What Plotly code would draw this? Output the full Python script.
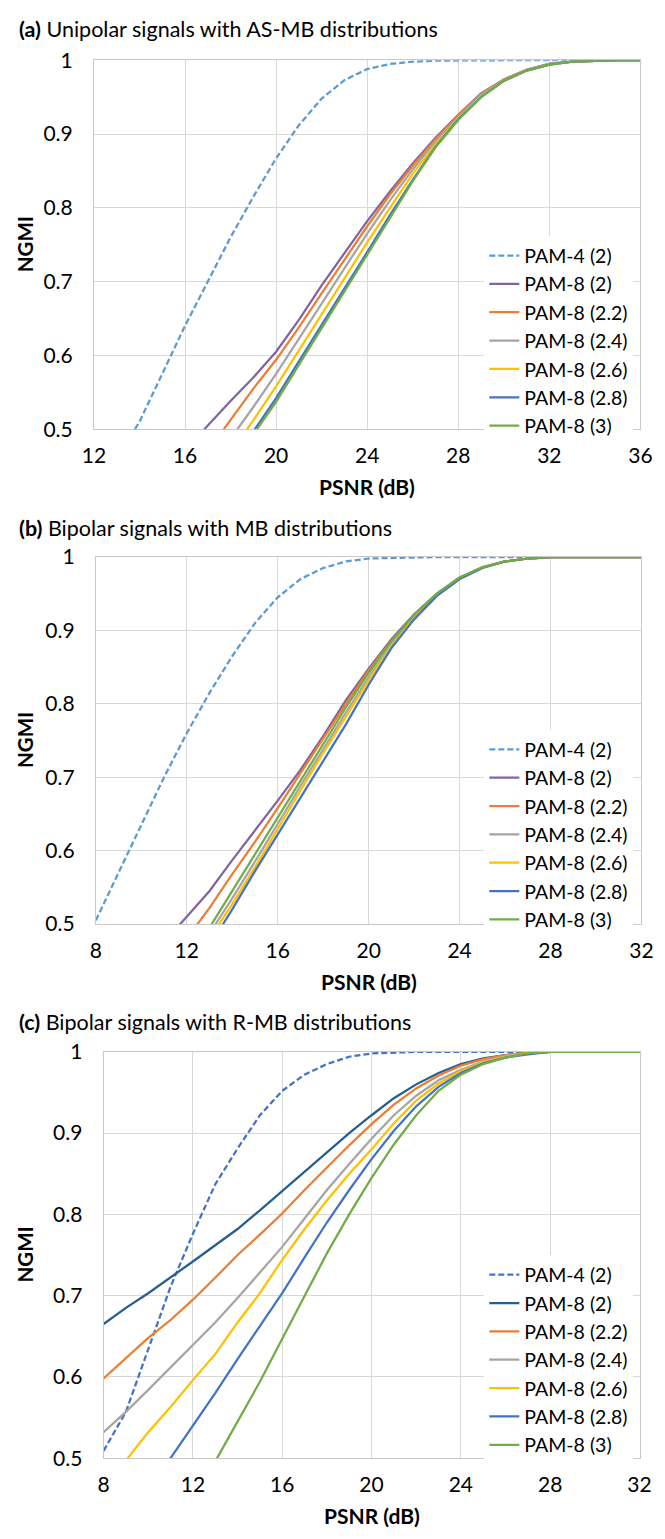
import plotly.graph_objects as go

W, H = 665, 1539
FONT = "Lato"

names = ["PAM-4 (2)", "PAM-8 (2)", "PAM-8 (2.2)", "PAM-8 (2.4)", "PAM-8 (2.6)", "PAM-8 (2.8)", "PAM-8 (3)"]

# ---------------- panel (a) -----------------
xa = list(range(12, 37))
a_pam4 = [0.42, 0.46, 0.51, 0.575, 0.64, 0.70, 0.76, 0.815, 0.867, 0.912, 0.948, 0.973, 0.988, 0.995, 0.998, 0.9995,
          1, 1, 1, 1, 1, 1, 1, 1, 1]
a_p8_20 = [None, None, None, None, 0.47, 0.505, 0.538, 0.57, 0.605, 0.648, 0.695, 0.738, 0.782, 0.822, 0.86, 0.895,
           0.926, 0.955, 0.974, 0.987, 0.995, 0.998, 0.9995, 1, 1]
a_p8_22 = [None, None, None, None, None, 0.47, 0.513, 0.555, 0.594, 0.638, 0.684, 0.73, 0.775, 0.818, 0.857, 0.893,
           0.925, 0.954, 0.974, 0.987, 0.995, 0.998, 0.9995, 1, 1]
a_p8_24 = [None, None, None, None, None, None, 0.487, 0.53, 0.575, 0.622, 0.67, 0.718, 0.765, 0.81, 0.852, 0.89,
           0.923, 0.953, 0.973, 0.987, 0.995, 0.998, 0.9995, 1, 1]
a_p8_26 = [None, None, None, None, None, None, 0.468, 0.512, 0.558, 0.607, 0.656, 0.705, 0.753, 0.8, 0.846, 0.886,
           0.921, 0.951, 0.972, 0.986, 0.994, 0.998, 0.9995, 1, 1]
a_p8_28 = [None, None, None, None, None, None, None, 0.497, 0.542, 0.592, 0.641, 0.69, 0.74, 0.79, 0.838, 0.883,
           0.92, 0.95, 0.972, 0.986, 0.994, 0.998, 0.9995, 1, 1]
a_p8_30 = [None, None, None, None, None, None, None, 0.493, 0.537, 0.587, 0.637, 0.686, 0.736, 0.787, 0.836, 0.882,
           0.919, 0.95, 0.972, 0.986, 0.994, 0.998, 0.9995, 1, 1]

# ---------------- panel (b) -----------------
xb = list(range(8, 33))
b_pam4 = [0.505, 0.57, 0.635, 0.70, 0.76, 0.815, 0.865, 0.91, 0.945, 0.97, 0.985, 0.994, 0.998, 0.999,
          1, 1, 1, 1, 1, 1, 1, 1, 1, 1, 1]
b_p8_20 = [None, None, None, 0.475, 0.51, 0.545, 0.587, 0.627, 0.668, 0.71, 0.756, 0.805, 0.848, 0.888, 0.922, 0.95,
           0.972, 0.986, 0.994, 0.998, 1, 1, 1, 1, 1]
b_p8_22 = [None, None, None, None, 0.48, 0.522, 0.568, 0.612, 0.658, 0.705, 0.752, 0.8, 0.845, 0.886, 0.92, 0.949,
           0.971, 0.986, 0.994, 0.998, 1, 1, 1, 1, 1]
b_p8_24 = [None, None, None, None, None, 0.487, 0.535, 0.585, 0.637, 0.688, 0.738, 0.788, 0.836, 0.88, 0.918, 0.948,
           0.971, 0.986, 0.994, 0.998, 1, 1, 1, 1, 1]
b_p8_26 = [None, None, None, None, None, 0.48, 0.527, 0.577, 0.63, 0.682, 0.733, 0.783, 0.832, 0.878, 0.917, 0.947,
           0.97, 0.985, 0.994, 0.998, 1, 1, 1, 1, 1]
b_p8_28 = [None, None, None, None, None, 0.47, 0.52, 0.572, 0.622, 0.672, 0.722, 0.772, 0.826, 0.876, 0.915, 0.947,
           0.97, 0.985, 0.994, 0.998, 1, 1, 1, 1, 1]
b_p8_30 = [None, None, None, None, None, 0.495, 0.545, 0.595, 0.645, 0.695, 0.745, 0.795, 0.842, 0.885, 0.921, 0.95,
           0.972, 0.986, 0.994, 0.998, 1, 1, 1, 1, 1]

# ---------------- panel (c) -----------------
xc = list(range(8, 33))
c_pam4 = [0.509, 0.557, 0.634, 0.711, 0.776, 0.837, 0.881, 0.922, 0.952, 0.972, 0.985, 0.994, 0.998, 0.999,
          1, 1, 1, 1, 1, 1, 1, 1, 1, 1, 1]
c_p8_20 = [0.665, 0.685, 0.703, 0.722, 0.742, 0.762, 0.782, 0.805, 0.829, 0.853, 0.876, 0.9, 0.922, 0.943, 0.96,
           0.974, 0.985, 0.992, 0.996, 0.999, 1, 1, 1, 1, 1]
c_p8_22 = [0.598, 0.623, 0.648, 0.67, 0.695, 0.722, 0.75, 0.775, 0.801, 0.83, 0.858, 0.885, 0.911, 0.935, 0.955,
           0.971, 0.983, 0.991, 0.996, 0.999, 1, 1, 1, 1, 1]
c_p8_24 = [0.532, 0.557, 0.584, 0.612, 0.64, 0.667, 0.697, 0.728, 0.76, 0.795, 0.83, 0.862, 0.893, 0.922, 0.946,
           0.965, 0.978, 0.988, 0.995, 0.998, 1, 1, 1, 1, 1]
c_p8_26 = [0.46, 0.497, 0.532, 0.563, 0.596, 0.628, 0.667, 0.703, 0.744, 0.782, 0.817, 0.85, 0.88, 0.912, 0.94,
           0.961, 0.976, 0.987, 0.994, 0.998, 1, 1, 1, 1, 1]
c_p8_28 = [None, None, 0.46, 0.5, 0.54, 0.58, 0.622, 0.662, 0.703, 0.747, 0.79, 0.83, 0.868, 0.903, 0.933,
           0.957, 0.974, 0.986, 0.993, 0.997, 1, 1, 1, 1, 1]
c_p8_30 = [None, None, None, None, 0.45, 0.496, 0.545, 0.594, 0.647, 0.7, 0.752, 0.8, 0.845, 0.886, 0.922,
           0.952, 0.972, 0.985, 0.993, 0.998, 1, 1, 1, 1, 1]

y_ticks = [0.5, 0.6, 0.7, 0.8, 0.9, 1.0]
y_ticktext = ["0.5", "0.6", "0.7", "0.8", "0.9", "1"]

colors_ab = ["#5B9BD5", "#8064A2", "#ED7D31", "#A5A5A5", "#FFC000", "#4472C4", "#70AD47"]
colors_c = ["#4472C4", "#255E91", "#ED7D31", "#A5A5A5", "#FFC000", "#4472C4", "#70AD47"]

titles = ["<b>(a)</b> Unipolar signals with AS-MB distributions",
          "<b>(b)</b> Bipolar signals with MB distributions",
          "<b>(c)</b> Bipolar signals with R-MB distributions"]

# pixel boxes for the three plot areas: left, right, top, bottom
boxes = [(85, 652, 47, 422), (87, 653, 552, 925), (95, 651, 1055, 1468)]
title_y = [15, 522, 1025]
legend_top = [226, 728, 1262]
xranges = [[12, 36], [8, 32], [8, 32]]

panels = [
    (xa, [a_pam4, a_p8_20, a_p8_22, a_p8_24, a_p8_26, a_p8_28, a_p8_30], colors_ab),
    (xb, [b_pam4, b_p8_20, b_p8_22, b_p8_24, b_p8_26, b_p8_28, b_p8_30], colors_ab),
    (xc, [c_pam4, c_p8_20, c_p8_22, c_p8_24, c_p8_26, c_p8_28, c_p8_30], colors_c),
]

fig = go.Figure()
layout = dict(width=W, height=H, margin=dict(l=0, r=0, t=0, b=0),
              paper_bgcolor="white", plot_bgcolor="white",
              font=dict(family=FONT, size=20, color="#000000"))
annotations = []
for i, ((x, series, cols), box, xr, title) in enumerate(zip(panels, boxes, xranges, titles)):
    n = "" if i == 0 else str(i + 1)
    L, R, T, B = box
    lg = "legend" if i == 0 else f"legend{i + 1}"
    for j, (name, ys) in enumerate(zip(names, series)):
        fig.add_trace(go.Scatter(
            x=x, y=ys, name=name, mode="lines",
            line=dict(color=cols[j], width=2.25, dash="6px,3px" if j == 0 else "solid"),
            xaxis="x" + n, yaxis="y" + n, legend=lg, connectgaps=False))
    axis_common = dict(showgrid=True, gridcolor="#d9d9d9", gridwidth=1,
                       showline=True, linecolor="#c8c8c8", linewidth=1, mirror=True,
                       zeroline=False, ticks="", tickfont=dict(family=FONT, size=21, color="#000"))
    layout["xaxis" + n] = dict(axis_common, domain=[L / W, R / W], range=xr, tickmode="linear",
                              tick0=xr[0], dtick=4, anchor="y" + n, ticklabelstandoff=8)
    layout["yaxis" + n] = dict(axis_common, domain=[1 - B / H, 1 - T / H], range=[0.5, 1],
                              tickvals=y_ticks, ticktext=y_ticktext, anchor="x" + n, ticklabelstandoff=16)
    layout[lg] = dict(x=490 / W, y=1 - legend_top[i] / H, xanchor="left", yanchor="top",
                      bgcolor="white", borderwidth=0, font=dict(family=FONT, size=19.5, color="#000"),
                      tracegroupgap=0, itemwidth=30)
    annotations.append(dict(text=title, x=0.008, y=1 - title_y[i] / H, xref="paper", yref="paper",
                            xanchor="left", yanchor="middle", showarrow=False,
                            font=dict(family=FONT, size=21.5, color="#000")))
    annotations.append(dict(text="<b>NGMI</b>", x=13 / W, y=1 - ((T + B) / 2) / H, xref="paper", yref="paper",
                            xanchor="center", yanchor="middle", showarrow=False, textangle=-90,
                            font=dict(family=FONT, size=20.5, color="#000")))
    annotations.append(dict(text="<b>PSNR (dB)</b>", x=((L + R) / 2) / W, y=1 - (B + 58) / H, xref="paper",
                            yref="paper", xanchor="center", yanchor="middle", showarrow=False,
                            font=dict(family=FONT, size=21, color="#000")))

layout["annotations"] = annotations
fig.update_layout(**layout)
fig.write_html("out.html")
